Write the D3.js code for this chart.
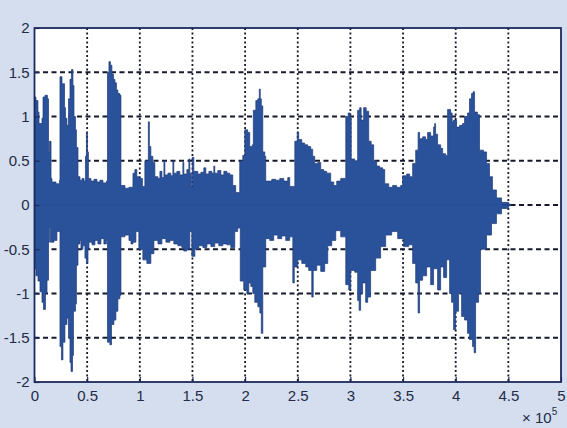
<!DOCTYPE html>
<html>
<head>
<meta charset="utf-8">
<script src="https://d3js.org/d3.v7.min.js"></script>
<style>
  body { margin: 0; background: #d5deee; }
  svg { display: block; }
  .lbl { font-family: "Liberation Sans", Arial, sans-serif; font-size: 15px; fill: #222b47; }
</style>
</head>
<body>
<div id="chart"></div>
<script>
// tick values (x in units of 1e5 samples)
var xTicks = [0, 0.5, 1, 1.5, 2, 2.5, 3, 3.5, 4, 4.5, 5];
var yTicks = [-2, -1.5, -1, -0.5, 0, 0.5, 1, 1.5, 2];

// upper envelope of the waveform, [x, amplitude]
var upperEnv = [
  [0,1.22],[0.014,1.18],[0.033,1.05],[0.043,0.92],[0.071,0.98],[0.081,1.22],[0.100,1.24],[0.123,1.2],[0.133,0.6],[0.142,0.72],[0.157,0.3],[0.166,0.26],[0.204,0.24],[0.237,0.28],
  [0.242,1.45],[0.261,1.37],[0.285,1.1],[0.294,0.98],[0.308,0.9],[0.323,1.2],[0.337,1.42],[0.351,1.53],[0.365,1.35],[0.375,1.0],[0.389,0.85],[0.398,0.65],
  [0.413,0.32],[0.432,0.28],[0.451,0.3],[0.470,0.27],[0.484,0.55],[0.493,0.82],[0.503,0.6],[0.512,0.3],[0.536,0.27],[0.565,0.29],[0.593,0.26],[0.621,0.28],[0.650,0.25],[0.683,0.27],
  [0.693,1.5],[0.707,1.62],[0.721,1.58],[0.735,1.48],[0.750,1.42],[0.764,1.38],[0.778,1.3],[0.792,1.26],[0.811,1.24],
  [0.821,0.22],[0.859,0.19],[0.897,0.2],[0.935,0.36],[0.953,0.4],[0.972,0.32],[1.001,0.3],[1.025,0.21],[1.048,0.5],[1.081,0.94],[1.091,0.66],[1.105,0.55],[1.124,0.48],[1.143,0.32],
  [1.172,0.3],[1.191,0.38],[1.210,0.31],[1.229,0.5],[1.238,0.34],[1.267,0.36],[1.295,0.33],[1.314,0.5],[1.323,0.36],[1.352,0.38],[1.380,0.34],[1.409,0.48],[1.418,0.35],[1.447,0.4],
  [1.466,0.52],[1.475,0.36],[1.490,0.2],[1.499,0.54],[1.513,0.38],[1.551,0.35],[1.580,0.37],[1.608,0.42],[1.627,0.35],[1.656,0.38],[1.684,0.36],[1.703,0.44],[1.712,0.36],[1.741,0.39],
  [1.770,0.34],[1.798,0.38],[1.827,0.36],[1.855,0.34],[1.883,0.22],[1.911,0.14],
  [1.949,0.5],[1.978,0.56],[1.997,0.85],[2.025,0.82],[2.044,0.66],[2.068,0.68],[2.078,1.07],[2.102,1.18],[2.121,1.2],[2.135,1.31],[2.144,1.2],[2.154,1.12],[2.168,0.6],[2.187,0.55],
  [2.196,0.27],[2.253,0.29],[2.291,0.28],[2.329,0.3],[2.367,0.27],[2.405,0.31],[2.424,0.21],
  [2.472,0.72],[2.495,0.82],[2.509,0.74],[2.538,0.7],[2.566,0.68],[2.595,0.66],[2.623,0.63],[2.642,0.55],[2.661,0.47],[2.690,0.48],[2.718,0.4],[2.747,0.38],[2.775,0.36],
  [2.813,0.26],[2.842,0.22],[2.870,0.27],[2.908,0.3],
  [2.956,1.0],[2.979,1.04],[2.998,0.98],[3.008,0.52],[3.041,0.5],[3.069,1.07],[3.088,1.1],[3.102,0.96],[3.126,1.1],[3.150,1.06],[3.174,0.72],[3.197,0.68],[3.221,0.5],[3.250,0.44],
  [3.278,0.42],[3.307,0.4],
  [3.326,0.24],[3.364,0.2],[3.401,0.22],[3.439,0.2],[3.477,0.22],[3.496,0.33],[3.534,0.35],[3.563,0.32],[3.591,0.47],[3.620,0.62],[3.643,0.82],[3.657,0.75],[3.686,0.77],[3.714,0.74],
  [3.733,0.82],[3.762,0.78],[3.790,0.88],[3.800,0.92],[3.809,0.8],[3.828,0.68],[3.857,0.64],[3.876,0.58],[3.904,0.56],
  [3.923,1.08],[3.952,1.04],[3.966,0.94],[3.980,0.96],[4.008,0.88],[4.037,0.9],[4.065,0.92],[4.084,1.0],[4.112,1.04],[4.131,1.2],[4.150,1.26],[4.165,1.28],[4.179,1.05],[4.207,1.02],
  [4.226,0.62],[4.264,0.6],[4.293,0.47],[4.321,0.32],[4.349,0.17],[4.387,0.08],[4.435,0.03],[4.501,0.01],[4.520,0]
];

// lower envelope of the waveform, [x, amplitude]
var lowerEnv = [
  [0,-0.72],[0.014,-0.8],[0.033,-0.86],[0.052,-0.98],[0.071,-1.1],[0.085,-1.18],[0.104,-1.0],[0.119,-0.85],[0.133,-0.42],[0.142,-0.25],[0.152,-0.42],[0.185,-0.4],[0.213,-0.3],[0.237,-0.28],
  [0.242,-1.6],[0.256,-1.75],[0.270,-1.55],[0.289,-1.35],[0.308,-1.28],[0.323,-1.5],[0.337,-1.78],[0.347,-1.88],[0.361,-1.7],[0.370,-1.2],[0.389,-1.12],[0.398,-0.68],
  [0.413,-0.44],[0.432,-0.4],[0.441,-0.5],[0.460,-0.46],[0.479,-0.6],[0.493,-0.66],[0.508,-0.5],[0.517,-0.42],[0.546,-0.45],[0.574,-0.4],[0.602,-0.44],[0.631,-0.38],[0.659,-0.44],[0.683,-0.4],
  [0.693,-1.55],[0.716,-1.58],[0.731,-1.35],[0.754,-1.3],[0.773,-1.2],[0.792,-1.06],[0.811,-1.02],
  [0.821,-0.36],[0.859,-0.34],[0.897,-0.4],[0.916,-0.44],[0.935,-0.42],[0.963,-0.3],[0.991,-0.5],[1.029,-0.62],[1.067,-0.66],[1.105,-0.55],[1.134,-0.4],[1.172,-0.44],[1.210,-0.38],
  [1.248,-0.42],[1.286,-0.4],[1.323,-0.44],[1.361,-0.46],[1.399,-0.48],[1.418,-0.52],[1.447,-0.5],[1.475,-0.3],[1.494,-0.58],[1.523,-0.5],[1.561,-0.46],[1.599,-0.48],[1.637,-0.44],
  [1.675,-0.47],[1.712,-0.43],[1.750,-0.46],[1.788,-0.44],[1.827,-0.45],[1.864,-0.48],[1.902,-0.3],[1.930,-0.26],
  [1.954,-0.86],[1.987,-0.96],[2.016,-1.0],[2.035,-0.88],[2.054,-0.92],[2.073,-1.0],[2.092,-1.1],[2.121,-1.15],[2.140,-1.22],[2.154,-1.45],[2.168,-0.7],
  [2.196,-0.38],[2.234,-0.4],[2.272,-0.34],[2.310,-0.38],[2.348,-0.35],[2.386,-0.4],[2.424,-0.36],
  [2.453,-0.88],[2.467,-0.7],[2.500,-0.62],[2.538,-0.66],[2.576,-0.7],[2.604,-0.74],[2.633,-1.04],[2.647,-0.74],[2.680,-0.68],[2.718,-0.75],[2.756,-0.66],
  [2.785,-0.46],[2.823,-0.4],[2.861,-0.29],[2.908,-0.36],
  [2.956,-0.9],[2.984,-0.96],[3.003,-0.74],[3.041,-0.76],[3.069,-1.08],[3.083,-1.19],[3.097,-1.0],[3.116,-0.88],[3.145,-1.1],[3.164,-1.04],[3.192,-0.74],[3.240,-0.6],[3.287,-0.47],
  [3.335,-0.34],[3.392,-0.3],[3.449,-0.38],[3.506,-0.47],[3.553,-0.45],
  [3.591,-0.66],[3.620,-0.88],[3.643,-1.22],[3.657,-0.85],[3.686,-0.8],[3.724,-0.7],[3.762,-0.9],[3.790,-0.72],[3.828,-0.96],[3.857,-0.7],[3.885,-0.82],[3.914,-0.62],
  [3.942,-1.0],[3.961,-1.1],[3.980,-1.41],[3.999,-1.2],[4.027,-1.0],[4.056,-1.26],[4.084,-1.3],[4.112,-1.45],[4.131,-1.52],[4.160,-1.6],[4.175,-1.67],[4.189,-1.1],[4.217,-1.0],
  [4.236,-0.5],[4.293,-0.34],[4.340,-0.21],[4.387,-0.1],[4.435,-0.04],[4.501,-0.01],[4.520,0]
];

var width = 567, height = 428;
var plotLeft = 34.5, plotRight = 561, plotTop = 28, plotBottom = 382;

var x = d3.scaleLinear().domain([0, 5]).range([plotLeft, plotRight]);
var y = d3.scaleLinear().domain([-2, 2]).range([plotBottom, plotTop]);

var svg = d3.select("#chart").append("svg")
    .attr("width", width)
    .attr("height", height);

svg.append("rect")
    .attr("width", width).attr("height", height)
    .attr("fill", "#d5deee");

svg.append("rect")
    .attr("x", plotLeft).attr("y", plotTop)
    .attr("width", plotRight - plotLeft).attr("height", plotBottom - plotTop)
    .attr("fill", "#ffffff");

// grid (under the data, like matlab's default layer)
svg.append("g").selectAll("line")
  .data(yTicks.slice(1, -1))
  .enter().append("line")
    .attr("x1", plotLeft).attr("x2", plotRight)
    .attr("y1", function(d) { return y(d); })
    .attr("y2", function(d) { return y(d); })
    .attr("stroke", "#161a2c")
    .attr("stroke-width", 1.8)
    .attr("stroke-dasharray", "5,3.5");

svg.append("g").selectAll("line")
  .data(xTicks.slice(1, -1))
  .enter().append("line")
    .attr("y1", plotTop).attr("y2", plotBottom)
    .attr("x1", function(d) { return x(d); })
    .attr("x2", function(d) { return x(d); })
    .attr("stroke", "#161a2c")
    .attr("stroke-width", 1.8)
    .attr("stroke-dasharray", "2,2.5");

// waveform: two step areas from zero out to each envelope
var envArea = d3.area()
    .x(function(d) { return x(d[0]); })
    .y0(y(0))
    .y1(function(d) { return y(d[1]); })
    .curve(d3.curveStepAfter);

svg.append("path")
    .datum(upperEnv)
    .attr("d", envArea)
    .attr("fill", "#2a529b")
    .attr("stroke", "#1d3a78")
    .attr("stroke-width", 0.7);

svg.append("path")
    .datum(lowerEnv)
    .attr("d", envArea)
    .attr("fill", "#2a529b")
    .attr("stroke", "#1d3a78")
    .attr("stroke-width", 0.7);

// cover the seam along zero
svg.append("rect")
    .attr("x", x(0)).attr("width", x(4.45) - x(0))
    .attr("y", y(0.01)).attr("height", y(-0.01) - y(0.01))
    .attr("fill", "#2a529b");

// axes, ticks pointing inward
var fmt = function(d) { return String(d); };

var xAxis = svg.append("g")
    .attr("transform", "translate(0," + plotBottom + ")")
    .call(d3.axisBottom(x).tickValues(xTicks).tickSize(-5).tickPadding(8).tickFormat(fmt));

var yAxis = svg.append("g")
    .attr("transform", "translate(" + plotLeft + ",0)")
    .call(d3.axisLeft(y).tickValues(yTicks).tickSize(-5).tickPadding(5).tickFormat(fmt));

[xAxis, yAxis].forEach(function(a) {
  a.select(".domain").remove();
  a.selectAll(".tick line").attr("stroke", "#1b2a5e").attr("stroke-width", 1.2);
  a.selectAll(".tick text").attr("class", "lbl").attr("font-family", null).attr("font-size", null).attr("fill", null);
});

svg.append("rect")
    .attr("x", plotLeft).attr("y", plotTop)
    .attr("width", plotRight - plotLeft).attr("height", plotBottom - plotTop)
    .attr("fill", "none")
    .attr("stroke", "#1b2a5e")
    .attr("stroke-width", 1.8);

// exponent label
var expo = svg.append("text")
    .attr("class", "lbl")
    .attr("x", 522).attr("y", 423);
expo.append("tspan").text("\u00d7 10");
expo.append("tspan").attr("dy", -8).style("font-size", "10px").text("5");
</script>
</body>
</html>
